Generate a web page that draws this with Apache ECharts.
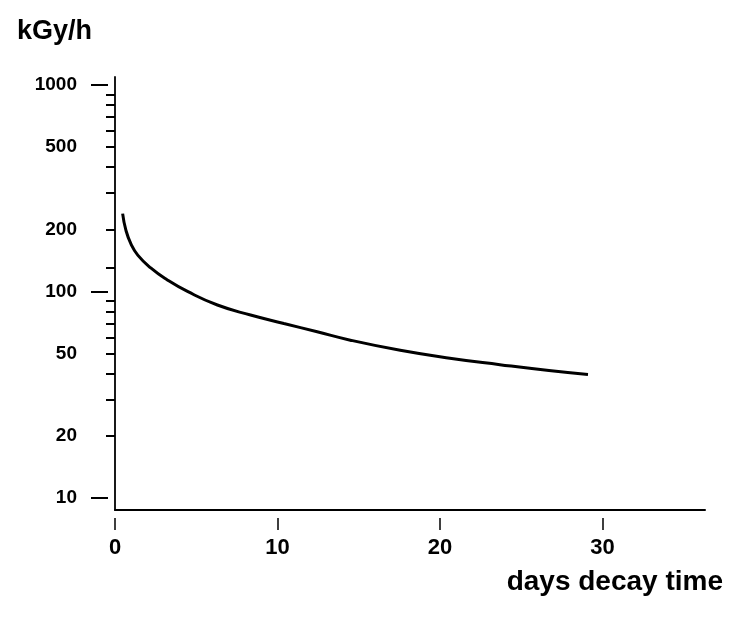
<!DOCTYPE html>
<html><head><meta charset="utf-8">
<script src="https://cdn.jsdelivr.net/npm/echarts@6/dist/echarts.min.js"></script>
<style>html,body{margin:0;padding:0;background:#fff}#c{width:733px;height:624px}</style>
</head><body><div id="c"></div>
<script>
const days = [0.47,0.67,0.98,1.4,2.2,3.2,4.46,6.3,8.34,10.39,12.44,14.48,17.55,20.6,23.68,26.7,29.1];
const doseRate = [238,198,170,150,130,114,100,86,76.9,70.0,63.8,58.1,51.9,47.5,44.2,41.4,39.6];
const xTickValues = [0,10,20,30];
const yLabelValues = [10,20,50,100,200,500,1000];
const yMajorTicks = [10,100,1000];
const yMinorTicks = [20,30,40,50,60,70,80,90,130,200,300,400,500,600,700,800,900];
const yTitle = 'kGy/h';
const xTitle = 'days decay time';

const X_MIN = 0, X_MAX = 36.3, Y_MIN = 8.75, Y_MAX = 1092;
const FONT = 'Liberation Sans, Arial, Helvetica, sans-serif';

const chart = echarts.init(document.getElementById('c'), null, {renderer:'canvas'});
const baseY = {type:'log', logBase:10, min:Y_MIN, max:Y_MAX, splitLine:{show:false}, position:'left'};
const baseX = {type:'value', min:X_MIN, max:X_MAX, splitLine:{show:false}, position:'bottom'};
chart.setOption({
  animation:false,
  backgroundColor:'#fff',
  title:[
    {text:yTitle, left:17, top:18, padding:0, textStyle:{fontSize:27, fontWeight:'bold', fontFamily:FONT, color:'#000'}},
    {text:xTitle, right:10, top:568, padding:0, textStyle:{fontSize:28, fontWeight:'bold', fontFamily:FONT, color:'#000'}}
  ],
  grid:{left:115, right:28, top:77, bottom:114, containLabel:false},
  xAxis:[
    Object.assign({}, baseX, {axisLine:{show:true, lineStyle:{color:'#000', width:2}}, axisTick:{show:false}, axisLabel:{show:false}}),
    Object.assign({}, baseX, {offset:8, axisLine:{show:false},
      axisTick:{show:true, customValues:xTickValues, length:12, lineStyle:{color:'#000', width:1.5}},
      axisLabel:{show:true, customValues:xTickValues, margin:19, fontSize:22, fontWeight:'bold', fontFamily:FONT, color:'#000'}})
  ],
  yAxis:[
    Object.assign({}, baseY, {axisLine:{show:true, lineStyle:{color:'#000', width:1.8}}, axisTick:{show:false}, axisLabel:{show:false}}),
    Object.assign({}, baseY, {offset:7, axisLine:{show:false},
      axisTick:{show:true, customValues:yMinorTicks, length:9, lineStyle:{color:'#000', width:2}},
      axisLabel:{show:false}}),
    Object.assign({}, baseY, {offset:7, axisLine:{show:false},
      axisTick:{show:true, customValues:yMajorTicks, length:17, lineStyle:{color:'#000', width:2}},
      axisLabel:{show:true, customValues:yLabelValues, margin:31, fontSize:19, fontWeight:'bold', fontFamily:FONT, color:'#000',
        formatter:function(v){return String(Math.round(v));}}})
  ],
  series:[{
    type:'line', xAxisIndex:0, yAxisIndex:0,
    data: days.map((d,i)=>[d, doseRate[i]]),
    showSymbol:false, smooth:0.5,
    lineStyle:{color:'#000', width:3}
  }]
});
</script></body></html>
